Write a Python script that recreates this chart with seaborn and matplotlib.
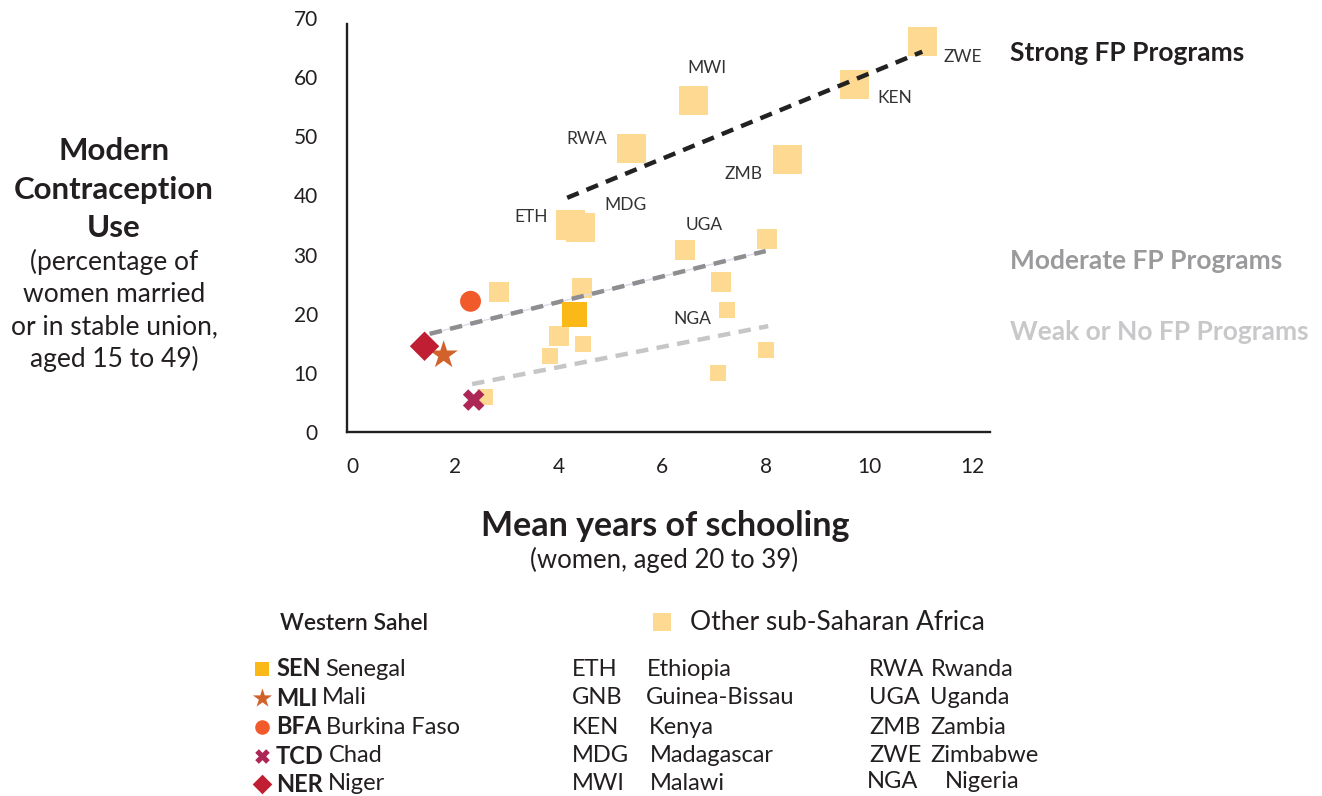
import numpy as np
import pandas as pd
import seaborn as sns
import matplotlib.pyplot as plt

# other sub-Saharan countries: mean years of schooling vs modern contraception use
other_code = ["ETH", "MDG", "RWA", "MWI", "ZMB", "KEN", "ZWE",
              "", "", "UGA", "", "", "",
              "NGA", "", "", "", "", "GNB"]
other_x = [4.22, 4.42, 5.40, 6.60, 8.43, 9.71, 11.04,
           2.84, 4.45, 6.44, 8.03, 7.13, 4.00,
           7.26, 4.47, 3.83, 8.00, 7.07, 2.57]
other_y = [35.0, 34.5, 48.0, 56.1, 46.0, 58.7, 66.1,
           23.7, 24.3, 30.7, 32.7, 25.4, 16.3,
           20.7, 14.8, 12.9, 13.8, 9.9, 5.9]
other_tier = ["strong"] * 7 + ["moderate"] * 6 + ["weak"] * 6

# Western Sahel countries
sahel_code = ["SEN", "MLI", "BFA", "TCD", "NER"]
sahel_name = ["Senegal", "Mali", "Burkina Faso", "Chad", "Niger"]
sahel_x = [4.31, 1.77, 2.29, 2.35, 1.40]
sahel_y = [19.9, 13.0, 22.1, 5.4, 14.5]

# trend lines per FP program strength (start / end)
trend_tier = ["strong", "moderate", "weak"]
trend_x = [[4.16, 11.03], [1.50, 8.00], [2.32, 8.05]]
trend_y = [[39.6, 64.3], [16.6, 30.6], [8.1, 17.9]]

other_names = [("ETH", "Ethiopia"), ("GNB", "Guinea-Bissau"), ("KEN", "Kenya"),
               ("MDG", "Madagascar"), ("MWI", "Malawi")]
other_names2 = [("RWA", "Rwanda"), ("UGA", "Uganda"), ("ZMB", "Zambia"),
                ("ZWE", "Zimbabwe"), ("NGA", "Nigeria")]

# styles
W, H = 1322, 796
DARK = "#231F20"
LIGHT = "#FDD992"
tier_size = {"strong": 436, "moderate": 207, "weak": 133}
tier_line = {"strong": "#222222", "moderate": "#8E8E90", "weak": "#C6C6C8"}
sahel_marker = {"SEN": "s", "MLI": "*", "BFA": "o", "TCD": "X", "NER": "D"}
sahel_color = {"SEN": "#FBB917", "MLI": "#D1622B", "BFA": "#F15A2B",
               "TCD": "#AC2755", "NER": "#C01F33"}
sahel_size = {"SEN": 324, "MLI": 460, "BFA": 227, "TCD": 240, "NER": 225}
label_offset = {"MWI": (10, 23), "RWA": (-32, 6.5), "ZMB": (-32, -10),
                "ETH": (-28, 6), "MDG": (32, 16.5), "UGA": (14, 18.4),
                "NGA": (-25, -6.7), "KEN": (29.5, -9.4), "ZWE": (29, -11.5)}

sns.set_style("white")
plt.rcParams["font.family"] = ["Lato", "DejaVu Sans"]

fig = plt.figure(figsize=(W / 100, H / 100), dpi=100)
ax = fig.add_axes([347 / W, 1 - 432 / H, (990 - 347) / W, (432 - 18) / H])

other_df = pd.DataFrame({"code": other_code, "x": other_x, "y": other_y, "tier": other_tier})
sns.scatterplot(data=other_df, x="x", y="y", size="tier", sizes=tier_size,
                marker="s", color=LIGHT, linewidth=0, legend=False, ax=ax, zorder=2)

for tier, xs, ys in zip(trend_tier, trend_x, trend_y):
    if tier == "moderate":
        ax.plot(xs, ys, color="#DCDCEA", lw=1, zorder=2.5)
    ax.plot(xs, ys, color=tier_line[tier], lw=3.2, dashes=(2.8, 1.9),
            solid_capstyle="butt", dash_capstyle="butt", zorder=3)

sahel_df = pd.DataFrame({"code": sahel_code, "x": sahel_x, "y": sahel_y})
sns.scatterplot(data=sahel_df, x="x", y="y", hue="code", style="code", size="code",
                palette=sahel_color, markers=sahel_marker, sizes=sahel_size,
                linewidth=0, legend=False, ax=ax, zorder=4)

for code, x, y in zip(other_code, other_x, other_y):
    if code in label_offset:
        ax.annotate(code, (x, y), xytext=label_offset[code], textcoords="offset points",
                    ha="center", va="center", fontsize=12.5, color="#333333", zorder=5)

ax.set_xlim(-0.1, 12.34)
ax.set_ylim(0, 70)
ax.set_xticks(range(0, 13, 2))
ax.set_yticks(range(0, 71, 10))
ax.set_xlabel("")
ax.set_ylabel("")
ax.tick_params(length=0, labelsize=15, labelcolor=DARK)
ax.tick_params(axis="y", pad=21)
ax.tick_params(axis="x", pad=18)
for s in ["top", "right"]:
    ax.spines[s].set_visible(False)
for s in ["left", "bottom"]:
    ax.spines[s].set_color(DARK)
    ax.spines[s].set_linewidth(1.7)
ax.spines["left"].set_bounds(0, 69)


def ft(x, y, s, **kw):
    return fig.text(x / W, 1 - y / H, s, **kw)


# y axis title
for i, line in enumerate(["Modern", "Contraception", "Use"]):
    ft(114, 151 + i * 38.5, line, ha="center", va="center", fontsize=22.5,
       weight="bold", color=DARK)
for i, line in enumerate(["(percentage of", "women married",
                          "or in stable union,", "aged 15 to 49)"]):
    ft(114, 262 + i * 32.4, line, ha="center", va="center", fontsize=19, color=DARK)

# x axis title
ft(665, 526, "Mean years of schooling", ha="center", va="center", fontsize=24.5,
   weight="bold", color=DARK)
ft(664, 560, "(women, aged 20 to 39)", ha="center", va="center", fontsize=18.5, color=DARK)

# program strength labels
ft(1010, 53, "Strong FP Programs", ha="left", va="center", fontsize=19,
   weight="bold", color=DARK)
ft(1010, 261, "Moderate FP Programs", ha="left", va="center", fontsize=19,
   weight="bold", color="#9A9A9C")
ft(1010, 332, "Weak or No FP Programs", ha="left", va="center", fontsize=19,
   weight="bold", color="#C8C8CA")

# legend
lax = fig.add_axes([0, 0, 1, 1], zorder=-1)
lax.set_xlim(0, W)
lax.set_ylim(H, 0)
lax.axis("off")

ft(280, 623, "Western Sahel", ha="left", va="center", fontsize=16.5,
   weight="semibold", color=DARK)
lax.scatter([662], [622], marker="s", s=150, color=LIGHT, linewidths=0)
ft(690, 623, "Other sub-Saharan Africa", ha="left", va="center", fontsize=19, color=DARK)

rows = [669, 698, 727, 756, 784]
leg_size = {"SEN": 100, "MLI": 210, "BFA": 110, "TCD": 110, "NER": 100}
for i, code in enumerate(sahel_code):
    lax.scatter([262], [rows[i]], marker=sahel_marker[code], s=leg_size[code],
                color=sahel_color[code], linewidths=0)
    t = ft(276, rows[i], code, ha="left", va="center", fontsize=17, weight="bold", color=DARK)
    lax.annotate(sahel_name[i], xy=(1, 0.5), xycoords=t, xytext=(3.5, 0),
                 textcoords="offset points", ha="left", va="center",
                 fontsize=17, color=DARK)

col2_name_x = [647, 646, 649, 650, 650]
for i, (code, name) in enumerate(other_names):
    ft(572, rows[i], code, ha="left", va="center", fontsize=17, color=DARK)
    ft(col2_name_x[i], rows[i], name, ha="left", va="center", fontsize=17, color=DARK)

col3_code_x = [869, 869, 869, 869, 867]
col3_name_x = [931, 930, 930, 930, 945]
col3_y = [669, 698, 727, 756, 781]
for i, (code, name) in enumerate(other_names2):
    ft(col3_code_x[i], col3_y[i], code, ha="left", va="center", fontsize=17, color=DARK)
    ft(col3_name_x[i], col3_y[i], name, ha="left", va="center", fontsize=17, color=DARK)

plt.savefig("out.png", dpi=100)
